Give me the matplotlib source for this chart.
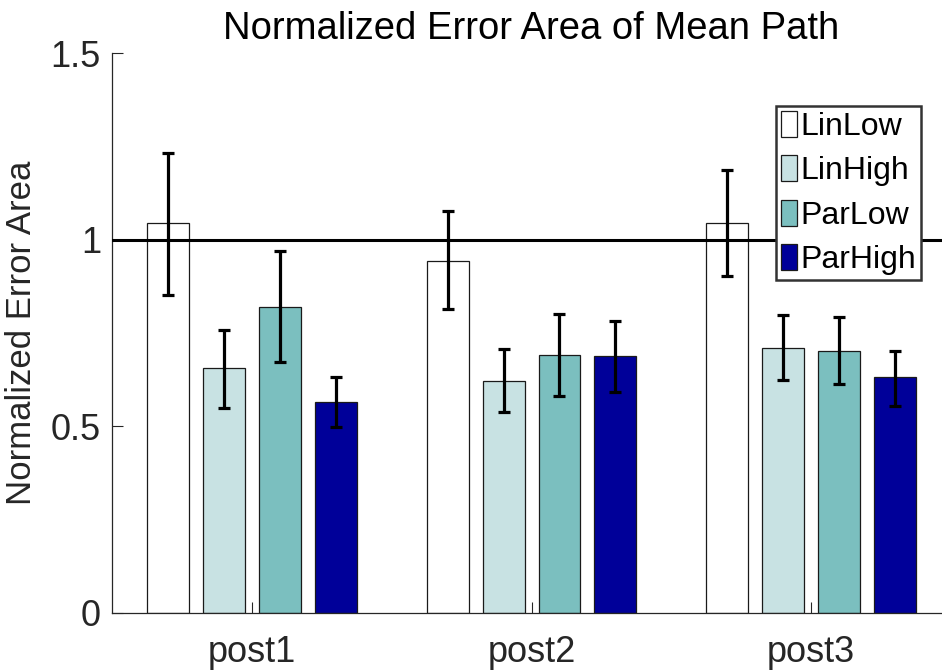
import matplotlib.pyplot as plt
import numpy as np

plt.rcParams['font.family'] = ['Liberation Sans', 'DejaVu Sans']

groups = ['post1', 'post2', 'post3']
conditions = ['LinLow', 'LinHigh', 'ParLow', 'ParHigh']
colors = ['#ffffff', '#c8e2e3', '#7bbfbf', '#000099']

# mean normalized error area per condition (rows) and session (cols)
means = [
    [1.044, 0.944, 1.044],
    [0.655, 0.622, 0.711],
    [0.821, 0.692, 0.703],
    [0.566, 0.687, 0.631],
]
err_lo = [
    [0.853, 0.813, 0.902],
    [0.550, 0.539, 0.625],
    [0.673, 0.580, 0.614],
    [0.499, 0.593, 0.555],
]
err_hi = [
    [1.232, 1.076, 1.186],
    [0.759, 0.706, 0.797],
    [0.969, 0.802, 0.794],
    [0.631, 0.781, 0.703],
]

ink = '#262626'
fig = plt.figure(figsize=(9.42, 6.7), dpi=100)
ax = fig.add_axes([0.1189, 0.0855, 0.8907, 0.835])

x = np.arange(1, len(groups) + 1)
offsets = [-0.3, -0.1, 0.1, 0.3]
width = 0.15
for i, name in enumerate(conditions):
    m = np.array(means[i])
    lo = m - np.array(err_lo[i])
    hi = np.array(err_hi[i]) - m
    ax.bar(x + offsets[i], m, width, color=colors[i], edgecolor='#1a1a1a',
           linewidth=0.9, label=name, zorder=2)
    ax.errorbar(x + offsets[i], m, yerr=[lo, hi], fmt='none', ecolor='black',
                elinewidth=2.3, capsize=4, capthick=2.3, zorder=4)

ax.axhline(1, color='black', linewidth=2.2, zorder=3)

ax.set_xlim(0.5, 3.5)
ax.set_ylim(0, 1.5)
ax.set_xticks(x)
ax.set_xticklabels(groups)
ax.set_yticks([0, 0.5, 1, 1.5])
ax.set_yticklabels(['0', '0.5', '1', '1.5'])
ax.tick_params(direction='in', length=8, width=0.8, colors=ink, labelsize=26)
ax.tick_params(axis='x', pad=16)
ax.tick_params(axis='y', pad=8)
for side in ['top', 'right']:
    ax.spines[side].set_visible(False)
for side in ['left', 'bottom']:
    ax.spines[side].set_color(ink)
    ax.spines[side].set_linewidth(0.9)

ax.set_ylabel('Normalized Error Area', fontsize=25, color=ink, labelpad=9)
ax.set_title('Normalized Error Area of Mean Path', fontsize=27.5,
             color='black', pad=10)

leg = ax.legend(loc='upper right', bbox_to_anchor=(921 / 942, 1 - 106 / 670),
                bbox_transform=fig.transFigure, fontsize=23, frameon=True,
                fancybox=False, edgecolor='#333333', framealpha=1,
                handlelength=0.5, handleheight=0.88, handletextpad=0.12,
                labelspacing=0.42, borderpad=0.15, borderaxespad=0)
leg.get_frame().set_linewidth(1.8)
leg.set_zorder(5)

fig.savefig('out.png', dpi=100)
